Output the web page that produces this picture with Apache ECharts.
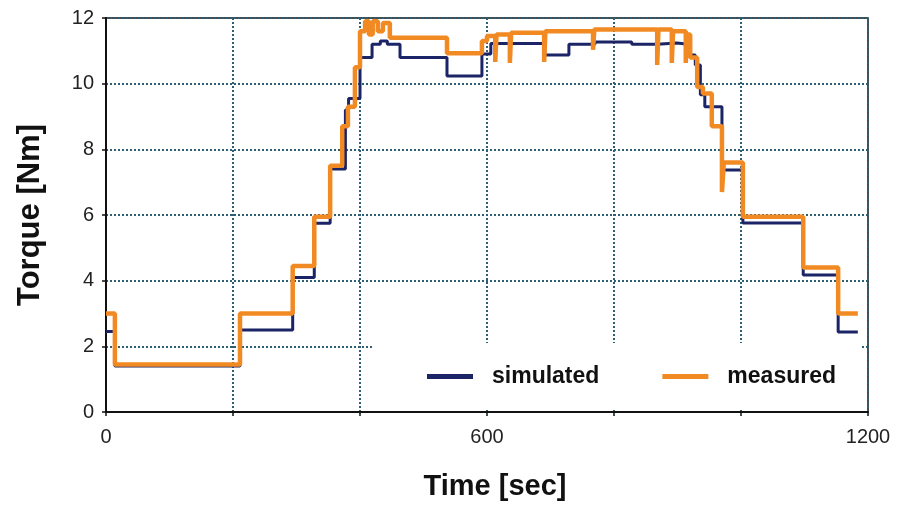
<!DOCTYPE html>
<html>
<head>
<meta charset="utf-8">
<script src="https://cdn.jsdelivr.net/npm/echarts@6/dist/echarts.min.js"></script>
<style>
html, body { margin: 0; padding: 0; background: #fff; }
#chart { width: 901px; height: 508px; }
</style>
</head>
<body>
<div id="chart"></div>
<script>
// step points [time sec, torque Nm]
var simulated = [
	[0, 2.45], [14, 1.4], [211, 2.5], [294, 4.1], [328, 5.75], [353, 7.4],
	[377, 9.2], [382, 9.55], [400, 10.8], [419, 11.2], [432, 11.3], [443, 11.2],
	[463, 10.8], [537, 10.23], [592, 10.9], [606, 11.22], [691, 10.87], [729, 11.2],
	[770, 11.27], [828, 11.2], [868, 11.24], [899, 11.2], [917, 10.87], [928, 10.57],
	[936, 9.66], [943, 9.3], [970, 7.37], [1003, 5.76], [1098, 4.17], [1153, 2.44],
	[1184, 2.44]
];
var measured = [
	[0, 3.0], [14, 1.45], [211, 3.0], [294, 4.45], [328, 5.95], [353, 7.5],
	[372, 8.7], [381, 9.3], [392, 10.5], [400, 11.6], [408, 11.9], [414, 11.5],
	[420, 11.9], [428, 11.6], [436, 11.85], [447, 11.4], [537, 10.93], [592, 11.3],
	[600, 11.45], [613, 10.66], [615, 11.5], [636, 10.63], [638, 11.55], [690, 10.66],
	[692, 11.6], [767, 11.03], [769, 11.65], [868, 10.57], [870, 11.65], [891, 10.63],
	[893, 11.6], [913, 10.63], [915, 11.5], [920, 10.8], [931, 9.9], [940, 9.7],
	[954, 8.7], [970, 6.7], [973, 7.6], [1003, 5.95], [1098, 4.4], [1153, 3.0],
	[1184, 3.0]
];
var xLabels = [0, 600, 1200];
var seriesNames = ['simulated', 'measured'];

var navy = '#1b2466';
var orange = '#f28a24';
var gridColor = '#2c5f73';
var font = '"Liberation Sans", Arial, sans-serif';

var myChart = echarts.init(document.getElementById('chart'));
myChart.setOption({
	backgroundColor: '#fff',
	animation: false,
	grid: {
		left: 106, right: 33, top: 18, bottom: 96,
		show: true, borderColor: '#111', borderWidth: 1.5
	},
	legend: {
		left: 373, top: 343,
		padding: [22, 25, 21, 54],
		itemGap: 63,
		itemWidth: 46, itemHeight: 5,
		icon: 'rect',
		backgroundColor: '#fff',
		textStyle: {
			fontFamily: font, fontSize: 23, fontWeight: 'bold', color: '#111',
			padding: [0, 0, 0, 14]
		},
		data: seriesNames
	},
	xAxis: {
		type: 'value', min: 0, max: 1200, interval: 200,
		name: 'Time [sec]', nameLocation: 'middle', nameGap: 60,
		nameTextStyle: {
			fontFamily: font, fontSize: 29, fontWeight: 'bold', color: '#111',
			padding: [0, 0, 0, 16]
		},
		axisLine: { lineStyle: { color: '#111', width: 2 } },
		axisTick: { length: 4, lineStyle: { color: '#111', width: 1.5 } },
		axisLabel: {
			margin: 15, fontFamily: font, fontSize: 20, color: '#222',
			formatter: function (v) { return xLabels.indexOf(v) >= 0 ? String(v) : ''; }
		},
		splitLine: { lineStyle: { color: gridColor, width: 2, type: [2, 2] } }
	},
	yAxis: {
		type: 'value', min: 0, max: 12, interval: 2,
		name: 'Torque [Nm]', nameLocation: 'middle', nameGap: 60,
		nameTextStyle: { fontFamily: font, fontSize: 31, fontWeight: 'bold', color: '#111' },
		axisLine: { show: true, lineStyle: { color: '#111', width: 2 } },
		axisTick: { show: true, length: 4, lineStyle: { color: '#111', width: 1.5 } },
		axisLabel: { margin: 12, fontFamily: font, fontSize: 20, color: '#222' },
		splitLine: { lineStyle: { color: gridColor, width: 2, type: [2, 2] } }
	},
	series: [{
		name: seriesNames[0],
		type: 'line',
		step: 'end',
		data: simulated,
		showSymbol: false,
		color: navy,
		lineStyle: { color: navy, width: 3 },
		z: 2
	}, {
		name: seriesNames[1],
		type: 'line',
		step: 'end',
		data: measured,
		showSymbol: false,
		color: orange,
		lineStyle: { color: orange, width: 4.5 },
		z: 3
	}]
});
</script>
</body>
</html>
